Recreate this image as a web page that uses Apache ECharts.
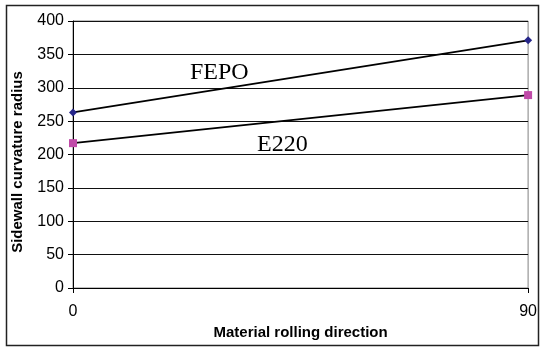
<!DOCTYPE html>
<html>
<head>
<meta charset="utf-8">
<script src="https://cdn.jsdelivr.net/npm/echarts@6/dist/echarts.min.js"></script>
<style>html,body{margin:0;padding:0;background:#fff;}#c{width:540px;height:349px;}</style>
</head>
<body>
<div id="c"></div>
<script>
var directions = [0, 90];
var fepo = [263, 371];
var e220 = [217, 289];
var yTicks = [0, 50, 100, 150, 200, 250, 300, 350, 400];

var chart = echarts.init(document.getElementById('c'), null, {renderer: 'canvas'});
function pairs(xs, ys) { return xs.map(function (x, i) { return [x, ys[i]]; }); }
var option = {
  animation: false,
  backgroundColor: '#fff',
  grid: {left: 73, right: 11, top: 21, bottom: 61, show: true, borderColor: '#808080', borderWidth: 1},
  xAxis: {
    type: 'value', min: 0, max: 90, interval: 90,
    name: 'Material rolling direction', nameLocation: 'middle', nameGap: 35,
    nameTextStyle: {fontFamily: 'Liberation Sans', fontWeight: 'bold', fontSize: 15, color: '#000'},
    axisLine: {show: true, onZero: false, lineStyle: {color: '#000', width: 1}},
    axisTick: {show: true, length: 5, inside: false, lineStyle: {color: '#000'}},
    axisLabel: {margin: 16, fontFamily: 'Liberation Sans', fontSize: 16, color: '#000'},
    splitLine: {show: false}
  },
  yAxis: {
    type: 'value', min: yTicks[0], max: yTicks[yTicks.length - 1], interval: 50,
    axisLine: {show: true, lineStyle: {color: '#000', width: 1}},
    axisTick: {show: true, length: 5, lineStyle: {color: '#000'}},
    axisLabel: {margin: 9, fontFamily: 'Liberation Sans', fontSize: 16, color: '#000'},
    splitLine: {show: true, lineStyle: {color: '#111', width: 1}}
  },
  series: [
    {
      name: 'FEPO', type: 'line', data: pairs(directions, fepo),
      symbol: 'diamond', symbolSize: 8, showAllSymbol: true,
      itemStyle: {color: '#26268a'}, lineStyle: {color: '#000', width: 1.7}
    },
    {
      name: 'E220', type: 'line', data: pairs(directions, e220),
      symbol: 'rect', symbolSize: 8, showAllSymbol: true,
      itemStyle: {color: '#c04aa8'}, lineStyle: {color: '#000', width: 1.7}
    }
  ],
  graphic: [
    {type: 'rect', shape: {x: 6.5, y: 5.5, width: 532, height: 340}, style: {fill: null, stroke: '#222', lineWidth: 1.5}, silent: true},
    {type: 'text', x: 18, y: 162, rotation: Math.PI / 2,
     style: {text: 'Sidewall curvature radius', font: 'bold 15px "Liberation Sans"', fill: '#000', align: 'center', verticalAlign: 'middle'}},
    {type: 'text', left: 190, top: 61, style: {text: 'FEPO', font: '24px "Liberation Serif"', fill: '#000'}},
    {type: 'text', left: 257, top: 133, style: {text: 'E220', font: '24px "Liberation Serif"', fill: '#000'}}
  ]
};
chart.setOption(option);
</script>
</body>
</html>
